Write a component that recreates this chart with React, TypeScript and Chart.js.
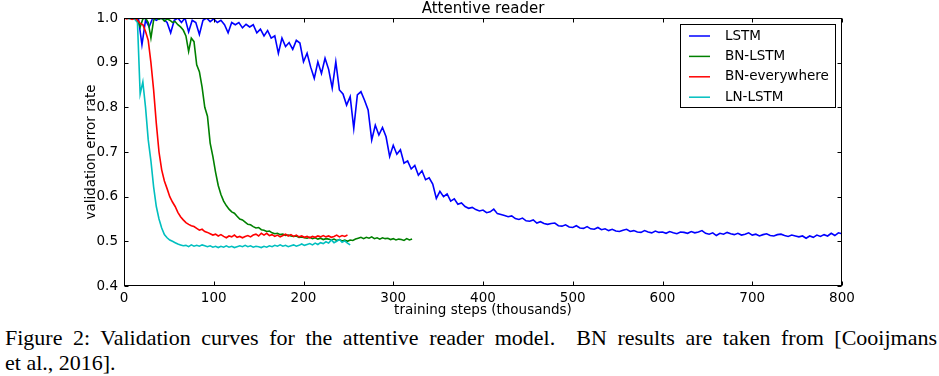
import React, { useEffect, useRef } from "react";
import { Chart, registerables } from "chart.js";

Chart.register(...registerables);

const TITLE = "Attentive reader";
const X_LABEL = "training steps (thousands)";
const Y_LABEL = "validation error rate";
const X_TICKS = [0, 100, 200, 300, 400, 500, 600, 700, 800];
const Y_TICKS = [0.4, 0.5, 0.6, 0.7, 0.8, 0.9, 1.0];
const SERIES_NAMES = ["LSTM", "BN-LSTM", "BN-everywhere", "LN-LSTM"];
const SERIES_COLORS = ["#0000ff", "#008000", "#ff0000", "#00bfbf"];

// training steps (thousands) between consecutive samples
const LSTM_STEP = 4;
const BN_LSTM_STEP = 3;
const BN_EVERY_STEP = 3;
const LN_LSTM_STEP = 3;

const LSTM = [
  1.0, 1.0, 1.0, 0.998, 1.0, 0.94, 0.995, 0.98, 1.0, 0.995,
  1.0, 0.997, 0.99, 0.967, 0.995, 1.0, 0.99, 1.0, 0.969, 0.995,
  0.99, 0.963, 0.995, 1.0, 0.992, 0.998, 0.99, 0.995, 0.985, 0.967,
  0.99, 0.985, 0.99, 0.978, 0.986, 0.98, 0.985, 0.967, 0.975, 0.96,
  0.972, 0.955, 0.96, 0.921, 0.955, 0.936, 0.945, 0.93, 0.95, 0.944,
  0.902, 0.921, 0.89, 0.865, 0.902, 0.876, 0.91, 0.885, 0.843, 0.902,
  0.839, 0.83, 0.805, 0.824, 0.753, 0.828, 0.835, 0.816, 0.794, 0.727,
  0.76, 0.738, 0.755, 0.734, 0.69, 0.715, 0.695, 0.705, 0.675, 0.68,
  0.662, 0.67, 0.648, 0.658, 0.638, 0.642, 0.628, 0.596, 0.612, 0.6,
  0.606, 0.59, 0.595, 0.583, 0.586, 0.578, 0.574, 0.576, 0.571, 0.568,
  0.57, 0.564, 0.566, 0.572, 0.562, 0.56, 0.558, 0.555, 0.557, 0.551,
  0.549, 0.552, 0.546, 0.545, 0.548, 0.541, 0.544, 0.54, 0.538, 0.54,
  0.541, 0.535, 0.534, 0.537, 0.532, 0.531, 0.535, 0.53, 0.529, 0.533,
  0.528, 0.527, 0.531, 0.526, 0.528, 0.524, 0.527, 0.523, 0.522, 0.525,
  0.527, 0.522, 0.524, 0.521, 0.52, 0.524, 0.521, 0.519, 0.523, 0.52,
  0.521, 0.518, 0.522, 0.519, 0.517, 0.521, 0.52, 0.518, 0.522, 0.519,
  0.521, 0.524, 0.518, 0.516, 0.519, 0.513, 0.518, 0.516, 0.52, 0.517,
  0.515, 0.518, 0.514, 0.516, 0.519, 0.514, 0.516, 0.512, 0.515, 0.517,
  0.513, 0.512, 0.515, 0.516, 0.513, 0.511, 0.514, 0.512, 0.51, 0.512,
  0.507, 0.512, 0.509, 0.514, 0.511, 0.515, 0.512, 0.518, 0.513, 0.519,
  0.517,
];

const BN_LSTM = [
  1.0, 1.0, 1.0, 0.998, 1.0, 0.995, 0.98, 0.998, 1.0, 0.99,
  0.955, 0.995, 1.0, 0.997, 1.0, 0.993, 0.998, 0.995, 0.99, 0.992,
  0.985, 0.98, 0.973, 0.96, 0.925, 0.955, 0.947, 0.895, 0.88, 0.845,
  0.8, 0.78, 0.72, 0.69, 0.655, 0.625, 0.605, 0.59, 0.58, 0.572,
  0.566, 0.563, 0.556, 0.55, 0.548, 0.543, 0.538, 0.537, 0.533, 0.53,
  0.531, 0.526, 0.525, 0.522, 0.523, 0.519, 0.517, 0.518, 0.515, 0.516,
  0.513, 0.514, 0.512, 0.511, 0.512, 0.509, 0.51, 0.508, 0.507, 0.509,
  0.506, 0.508, 0.505, 0.507, 0.504, 0.506, 0.505, 0.503, 0.505, 0.502,
  0.504, 0.501, 0.503, 0.5, 0.503, 0.502, 0.505, 0.507, 0.509, 0.506,
  0.509, 0.507, 0.51, 0.506, 0.508, 0.505, 0.508, 0.506, 0.507, 0.504,
  0.506, 0.503, 0.505, 0.504, 0.502, 0.506, 0.503, 0.505,
];

const BN_EVERYWHERE = [
  1.0, 0.998, 1.0, 0.997, 1.0, 0.995, 0.988, 0.985, 0.97, 0.95,
  0.9, 0.839, 0.764, 0.7, 0.66, 0.635, 0.618, 0.6, 0.588, 0.578,
  0.565, 0.555, 0.548, 0.542, 0.538, 0.535, 0.533, 0.529, 0.525, 0.527,
  0.522, 0.52, 0.517, 0.514, 0.516, 0.512, 0.515, 0.511, 0.508, 0.512,
  0.51, 0.514, 0.509, 0.511, 0.508, 0.511, 0.513, 0.51, 0.514, 0.516,
  0.512, 0.518, 0.514, 0.518, 0.513, 0.515, 0.511, 0.514, 0.51, 0.513,
  0.516, 0.512, 0.515, 0.511, 0.514, 0.51, 0.512, 0.509, 0.511, 0.508,
  0.511, 0.509, 0.512, 0.51, 0.513, 0.51, 0.512, 0.509, 0.511, 0.514,
  0.51, 0.513, 0.511, 0.514,
];

const LN_LSTM = [
  1.0, 1.0, 0.998, 1.0, 0.997, 0.99, 0.83, 0.857, 0.8, 0.727,
  0.68, 0.622, 0.578, 0.55, 0.53, 0.515, 0.508, 0.503, 0.5, 0.497,
  0.494, 0.492, 0.49, 0.491, 0.488, 0.492, 0.489, 0.491, 0.489, 0.492,
  0.49, 0.488, 0.49, 0.487, 0.489, 0.486, 0.489, 0.487, 0.49, 0.487,
  0.489, 0.486, 0.488, 0.49, 0.488, 0.491, 0.488, 0.49, 0.487, 0.489,
  0.488, 0.486, 0.489, 0.487, 0.49, 0.488, 0.491, 0.489, 0.492, 0.489,
  0.491, 0.488, 0.49, 0.492, 0.489, 0.491, 0.494, 0.491, 0.493, 0.495,
  0.492, 0.496, 0.493, 0.497, 0.495, 0.499, 0.496, 0.503, 0.497, 0.5,
  0.504, 0.498, 0.501, 0.496, 0.492,
];

const FONT = "'DejaVu Sans', sans-serif";
const FONT_SIZE = 13.5;

function toPoints(values: number[], step: number) {
  return values.map((y, i) => ({ x: i * step, y }));
}

const decorPlugin = {
  id: "decor",
  afterDraw(chart: any) {
    const { ctx, chartArea: a, scales } = chart;
    ctx.save();
    ctx.strokeStyle = "#000";
    ctx.lineWidth = 1;
    const L = Math.round(a.left) + 0.5;
    const R = Math.round(a.right) - 0.5;
    const T = Math.round(a.top) + 0.5;
    const B = Math.round(a.bottom) - 0.5;
    ctx.strokeRect(L, T, R - L, B - T);
    const TL = 4;
    ctx.beginPath();
    X_TICKS.forEach((v) => {
      const px = Math.round(scales.x.getPixelForValue(v)) + 0.5;
      ctx.moveTo(px, B);
      ctx.lineTo(px, B - TL);
      ctx.moveTo(px, T);
      ctx.lineTo(px, T + TL);
    });
    Y_TICKS.forEach((v) => {
      const py = Math.round(scales.y.getPixelForValue(v)) + 0.5;
      ctx.moveTo(L, py);
      ctx.lineTo(L + TL, py);
      ctx.moveTo(R, py);
      ctx.lineTo(R - TL, py);
    });
    ctx.stroke();

    ctx.fillStyle = "#000";
    ctx.textAlign = "center";
    ctx.textBaseline = "middle";
    const cx = (a.left + a.right) / 2;
    ctx.font = `15px ${FONT}`;
    ctx.fillText(TITLE, cx, 9.5);
    ctx.font = `${FONT_SIZE}px ${FONT}`;
    ctx.fillText(X_LABEL, cx, a.bottom + 24);
    ctx.save();
    ctx.translate(a.left - 33, (a.top + a.bottom) / 2);
    ctx.rotate(-Math.PI / 2);
    ctx.fillText(Y_LABEL, 0, 0);
    ctx.restore();

    const boxR = Math.round(a.right) - 7;
    const boxL = boxR - 155;
    const boxT = Math.round(a.top) + 6;
    const boxH = 83;
    ctx.fillStyle = "#fff";
    ctx.fillRect(boxL, boxT, 155, boxH);
    ctx.strokeStyle = "#000";
    ctx.lineWidth = 1;
    ctx.strokeRect(boxL + 0.5, boxT + 0.5, 155, boxH);
    ctx.textAlign = "left";
    SERIES_NAMES.forEach((name, i) => {
      const y = boxT + 12 + i * 20.4;
      ctx.strokeStyle = SERIES_COLORS[i];
      ctx.lineWidth = 1.5;
      ctx.beginPath();
      ctx.moveTo(boxL + 9, y);
      ctx.lineTo(boxL + 30, y);
      ctx.stroke();
      ctx.fillStyle = "#000";
      ctx.fillText(name, boxL + 45, y);
    });
    ctx.restore();
  },
};

export default function App() {
  const ref = useRef<HTMLCanvasElement | null>(null);
  useEffect(() => {
    if (!ref.current) return;
    const datasets = [
      { label: SERIES_NAMES[0], data: toPoints(LSTM, LSTM_STEP), borderColor: SERIES_COLORS[0], order: 4 },
      { label: SERIES_NAMES[1], data: toPoints(BN_LSTM, BN_LSTM_STEP), borderColor: SERIES_COLORS[1], order: 3 },
      { label: SERIES_NAMES[2], data: toPoints(BN_EVERYWHERE, BN_EVERY_STEP), borderColor: SERIES_COLORS[2], order: 1 },
      { label: SERIES_NAMES[3], data: toPoints(LN_LSTM, LN_LSTM_STEP), borderColor: SERIES_COLORS[3], order: 2 },
    ].map((d) => ({ ...d, borderWidth: 1.6, pointRadius: 0, fill: false, tension: 0 }));
    const tickFont = { family: FONT, size: FONT_SIZE };
    const chart = new Chart(ref.current, {
      type: "line",
      data: { datasets },
      options: {
        animation: false,
        responsive: false,
        devicePixelRatio: 1,
        layout: { padding: { top: 18, right: 97, left: 0, bottom: 0 } },
        plugins: {
          legend: { display: false },
          title: { display: false },
          tooltip: { enabled: false },
        },
        scales: {
          x: {
            type: "linear",
            min: 0,
            max: 800,
            afterFit: (s: any) => {
              s.height = 34;
            },
            grid: { display: false, drawTicks: false },
            border: { display: false },
            afterBuildTicks: (s: any) => {
              s.ticks = X_TICKS.map((v) => ({ value: v }));
            },
            ticks: { padding: 4, color: "#000", font: tickFont, maxRotation: 0, autoSkip: false },
          },
          y: {
            type: "linear",
            min: 0.4,
            max: 1.0,
            afterFit: (s: any) => {
              s.width = 124;
            },
            grid: { display: false, drawTicks: false },
            border: { display: false },
            afterBuildTicks: (s: any) => {
              s.ticks = Y_TICKS.map((v) => ({ value: v }));
            },
            ticks: {
              padding: 6,
              color: "#000",
              font: tickFont,
              autoSkip: false,
              callback: (v: any) => Number(v).toFixed(1),
            },
          },
        },
      },
      plugins: [decorPlugin],
    } as any);
    return () => chart.destroy();
  }, []);

  return (
    <div style={{ position: "absolute", left: 0, top: 0, width: 939, height: 376, background: "#fff", overflow: "hidden" }}>
      <canvas ref={ref} width={939} height={320} style={{ position: "absolute", left: 0, top: 0, width: 939, height: 320 }} />
      <div
        style={{
          position: "absolute",
          left: 5,
          top: 326,
          width: 932,
          fontFamily: "'Liberation Serif', 'Times New Roman', serif",
          fontSize: 22,
          lineHeight: "24.5px",
          color: "#000",
        }}
      >
        <div style={{ textAlign: "justify", textAlignLast: "justify", whiteSpace: "nowrap" as any }}>
          Figure 2: Validation curves for the attentive reader model.&nbsp; BN results are taken from [Cooijmans
        </div>
        <div>et al., 2016].</div>
      </div>
    </div>
  );
}
